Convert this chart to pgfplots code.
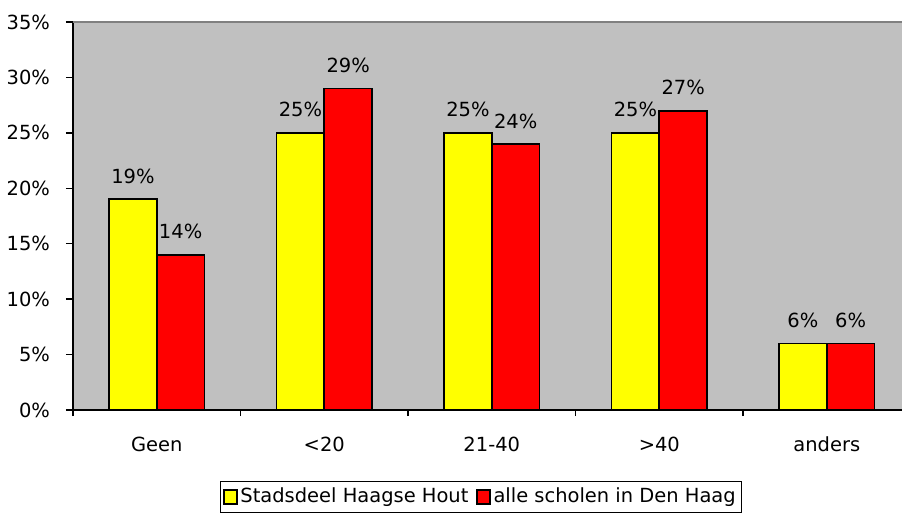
\documentclass[border=0pt]{standalone}
\usepackage{pgfplots}
\pgfplotsset{compat=1.18}
\usepackage{fontspec}
\setmainfont{DejaVu Sans}
\definecolor{plotgray}{HTML}{C0C0C0}
\definecolor{framegray}{HTML}{808080}
\definecolor{barY}{HTML}{FFFF00}
\definecolor{barR}{HTML}{FF0000}
\newcommand{\chartfont}{\fontsize{14.6}{17}\selectfont}
\begin{document}
\chartfont
\begin{tikzpicture}[x=1pt,y=1pt]
\begin{axis}[
    scale only axis,
    width=621.75pt, height=291pt,
    xmin=-0.5, xmax=4.449,
    ymin=0, ymax=35,
    axis x line*=bottom, axis y line*=left,
    axis line style={-, black, line width=1.5pt},
    axis background/.style={fill=plotgray},
    ytick={0,5,...,35},
    yticklabel={\pgfmathprintnumber{\tick}\%},
    xtick={0,...,4},
    xticklabels={Geen, <20, 21-40, >40, anders},
    minor xtick={-0.5,0.5,1.5,2.5,3.5},
    major x tick style={draw=none},
    minor x tick style={black, line width=1pt},
    y tick style={black, line width=1pt},
    tick align=outside,
    major tick length=5.25pt,
    minor tick length=4.5pt,
    xticklabel style={yshift=-10pt},
    yticklabel style={xshift=-7pt},
    /pgf/number format/assume math mode=true,
    tick label style={font=\chartfont},
    ybar, bar width=0.285,
    nodes near coords={\pgfmathprintnumber{\pgfplotspointmeta}\%},
    every node near coord/.append style={font=\chartfont, anchor=south, inner sep=0pt, yshift=11pt},
    clip=false,
    legend style={at={(0.492,-0.183)}, anchor=north, draw=black, line width=0.75pt,
        legend columns=2, font=\chartfont,
        inner xsep=2pt, inner ysep=3pt,
        /tikz/every even column/.append style={column sep=4pt}},
    legend cell align=left,
    legend image code/.code={\draw[#1, line width=1.3pt] (0pt,-5pt) rectangle (9.5pt,5pt);},
]
\addplot[fill=barY, draw=black, line width=1.4pt, bar shift=-0.1425] coordinates {(0,19) (1,25) (2,25) (3,25) (4,6)};
\addplot[fill=barR, draw=black, line width=1.4pt, bar shift=0.1425] coordinates {(0,14) (1,29) (2,24) (3,27) (4,6)};
\legend{Stadsdeel Haagse Hout, alle scholen in Den Haag}
\draw[framegray, line width=1pt] (rel axis cs:0,1) -- (rel axis cs:1,1);
\end{axis}
\pgfresetboundingbox
\path (current axis.south west) ++(-54.75pt,-80.25pt) coordinate (bl);
\path (current axis.south west) ++(621.75pt,307.5pt) coordinate (tr);
\path[use as bounding box] (bl) rectangle (tr);
\end{tikzpicture}
\end{document}
